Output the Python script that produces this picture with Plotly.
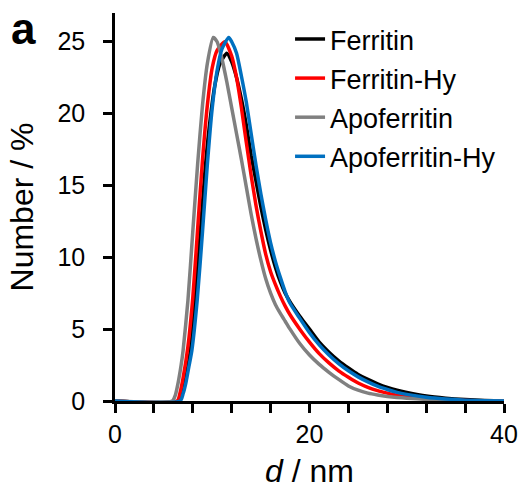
import plotly.graph_objects as go

names = ["Ferritin", "Ferritin-Hy", "Apoferritin", "Apoferritin-Hy"]
colors = ["#000000", "#ff0000", "#808080", "#0070c0"]

d_ferritin = [0, 6.6, 6.9, 7.2, 7.5, 7.75, 8.25, 8.75, 9.25, 9.75, 10.25, 10.75, 11.5, 12, 12.5, 13, 13.5, 14, 14.5, 15, 15.5, 16, 16.5, 17, 17.5, 18, 19, 20, 21, 22, 23, 24, 25, 26, 27, 28, 29, 30, 32, 34, 36, 38, 40]
v_ferritin = [0, 0, 0.5, 1.3, 2.4, 3.5, 7.0, 11.5, 16.0, 19.4, 21.9, 23.4, 24.2, 23.6, 22.5, 21.0, 19.2, 17.1, 15.3, 13.5, 11.9, 10.5, 9.3, 8.3, 7.5, 6.9, 5.9, 5.0, 4.1, 3.4, 2.8, 2.3, 1.85, 1.5, 1.2, 0.95, 0.75, 0.6, 0.35, 0.2, 0.1, 0.04, 0]

d_ferritin_hy = [0, 6.4, 6.7, 7.0, 7.5, 8.0, 8.5, 9.0, 9.5, 10.0, 10.5, 11.3, 12, 12.5, 13, 13.5, 14, 14.5, 15, 15.5, 16, 16.5, 17, 17.5, 18, 19, 20, 21, 22, 23, 24, 25, 26, 27, 28, 29, 30, 32, 34, 36, 38, 40]
v_ferritin_hy = [0, 0, 0.6, 1.6, 3.8, 7.2, 12.0, 16.8, 20.6, 23.2, 24.4, 25.0, 24.0, 22.5, 20.4, 18.0, 15.7, 13.6, 11.8, 10.2, 9.0, 8.1, 7.3, 6.6, 6.0, 5.0, 4.1, 3.3, 2.65, 2.1, 1.65, 1.25, 0.95, 0.72, 0.55, 0.4, 0.3, 0.16, 0.08, 0.04, 0.01, 0]

d_apo = [0, 5.9, 6.2, 6.5, 6.8, 7.0, 7.5, 8.0, 8.5, 9.0, 9.5, 10.1, 10.5, 11, 11.5, 12, 12.5, 13, 13.5, 14, 14.5, 15, 15.5, 16, 16.5, 17, 17.5, 18, 19, 20, 21, 22, 23, 24, 25, 26, 27, 28, 29, 30, 32, 34, 36, 38, 40]
v_apo = [0, 0, 0.4, 1.3, 2.5, 3.5, 7.0, 11.8, 16.5, 20.6, 23.5, 25.3, 25.0, 23.8, 22.2, 20.4, 18.6, 16.8, 14.9, 13.0, 11.3, 9.8, 8.5, 7.5, 6.7, 6.1, 5.55, 5.0, 4.0, 3.2, 2.55, 2.0, 1.5, 1.05, 0.75, 0.55, 0.42, 0.32, 0.25, 0.2, 0.11, 0.05, 0.02, 0.01, 0]

d_apo_hy = [0, 6.7, 7.0, 7.3, 7.6, 7.9, 8.45, 9.0, 9.5, 10.0, 10.5, 11.0, 11.7, 12, 12.5, 13, 13.5, 14, 14.5, 15, 15.5, 16, 16.5, 17, 17.5, 18, 19, 20, 21, 22, 23, 24, 25, 26, 27, 28, 29, 30, 32, 34, 36, 38, 40]
v_apo_hy = [0, 0, 0.5, 1.3, 2.4, 3.5, 7.0, 11.8, 16.5, 20.4, 23.0, 24.5, 25.3, 25.0, 24.2, 22.6, 20.8, 18.6, 16.4, 14.4, 12.6, 11.0, 9.7, 8.6, 7.6, 6.8, 5.75, 4.75, 3.9, 3.2, 2.6, 2.1, 1.68, 1.33, 1.03, 0.8, 0.6, 0.46, 0.26, 0.14, 0.06, 0.02, 0]

xs = [d_ferritin, d_ferritin_hy, d_apo, d_apo_hy]
ys = [v_ferritin, v_ferritin_hy, v_apo, v_apo_hy]

FONT = "Liberation Sans, Arial, sans-serif"

fig = go.Figure()
for i in range(4):
    fig.add_trace(go.Scatter(
        x=xs[i], y=ys[i], mode="lines", name=names[i],
        line=dict(color=colors[i], width=3.5, shape="spline", smoothing=0.6),
        legendgroup=names[i],
    ))

fig.update_layout(
    width=522, height=489,
    margin=dict(l=115, r=18, t=13, b=88),
    plot_bgcolor="white", paper_bgcolor="white",
    font=dict(family=FONT, color="black", size=24),
    showlegend=True,
    legend=dict(x=0.45, y=0.995, xanchor="left", yanchor="top",
                font=dict(size=27, family=FONT), bgcolor="rgba(0,0,0,0)",
                tracegroupgap=1, itemwidth=30),
    xaxis=dict(range=[0, 40], dtick=20, tick0=0, showgrid=False, zeroline=False,
               automargin=False,
               showline=True, linecolor="black", linewidth=2.5,
               ticks="outside", ticklen=9, tickwidth=2.5, tickcolor="black",
               tickfont=dict(size=25),
               minor=dict(dtick=4, tick0=0, ticks="outside", ticklen=9, tickwidth=2.5, tickcolor="black", showgrid=False),
               title=dict(text="<i>d</i> / nm", font=dict(size=32), standoff=14)),
    yaxis=dict(range=[0, 27], dtick=5, tick0=0, showgrid=False, zeroline=False,
               automargin=False,
               showline=True, linecolor="black", linewidth=2.5,
               ticks="outside", ticklen=9, tickwidth=2.5, tickcolor="black",
               tickfont=dict(size=25), ticklabelstandoff=13,
               title=dict(text="Number / %", font=dict(size=32))),
)

fig.add_annotation(text="<b>a</b>", xref="paper", yref="paper", x=-0.234, y=0.96,
                   xanchor="center", yanchor="middle", showarrow=False,
                   font=dict(size=44, family=FONT))

fig.write_html("out.html")
